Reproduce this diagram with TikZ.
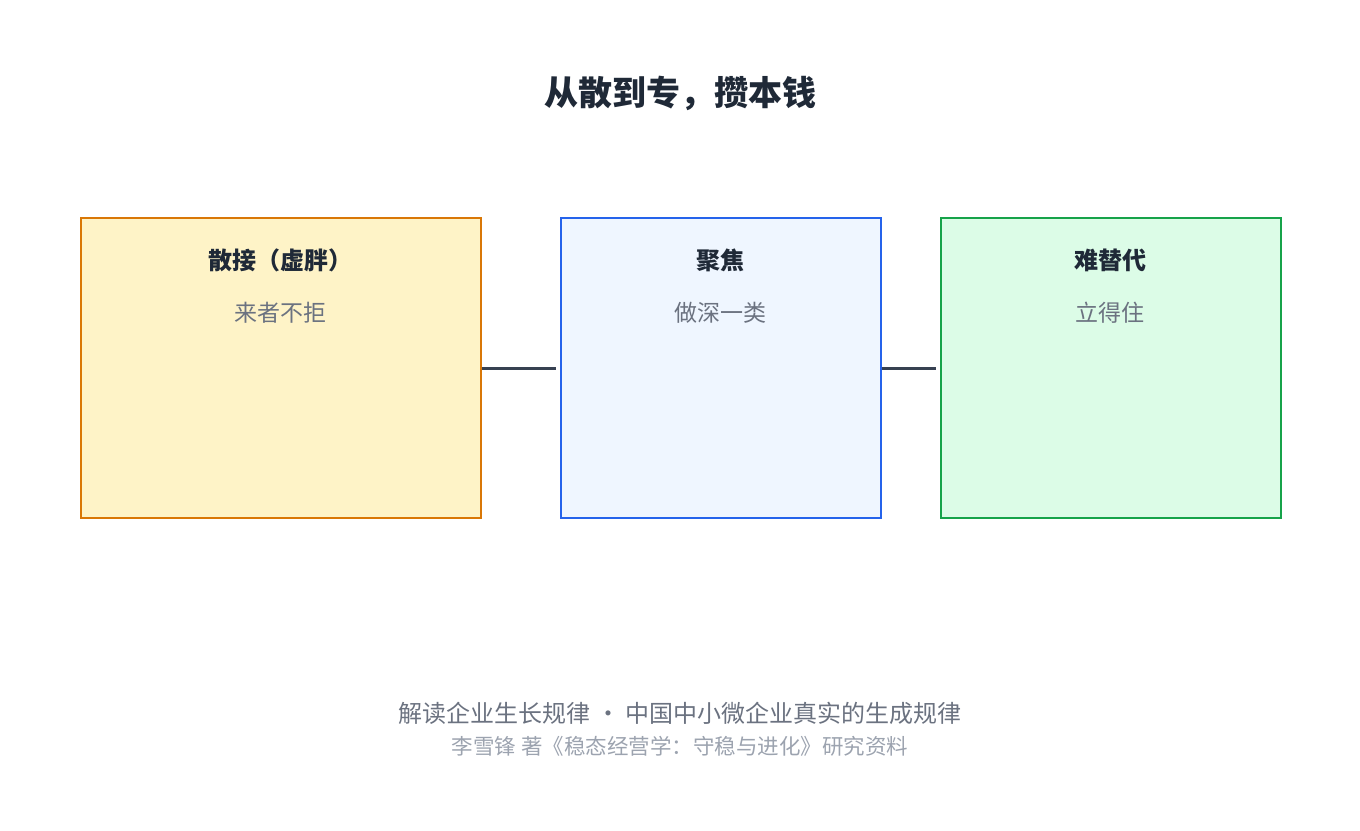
\documentclass[tikz,border=0pt]{standalone}
\usepackage{fontspec}
\setmainfont{Noto Sans CJK SC}
\usetikzlibrary{positioning, calc}
\definecolor{ink}{HTML}{1F2937}
\definecolor{sub}{HTML}{6B7280}
\definecolor{faint}{HTML}{9CA3AF}
\definecolor{link}{HTML}{374151}
\definecolor{amberline}{HTML}{D97706}
\definecolor{amberfill}{HTML}{FEF3C7}
\definecolor{blueline}{HTML}{2563EB}
\definecolor{bluefill}{HTML}{EFF6FF}
\definecolor{greenline}{HTML}{16A34A}
\definecolor{greenfill}{HTML}{DCFCE7}
\tikzset{
    stage/.style={draw, line width=2pt, minimum height=300pt, anchor=north west, inner sep=0pt},
    head/.style={font=\fontsize{24pt}{28pt}\selectfont\bfseries, text=ink},
    note/.style={font=\fontsize{23pt}{27pt}\selectfont, text=sub},
    link/.style={draw=link, line width=3pt},
}
\begin{document}
\begin{tikzpicture}[x=1pt, y=-1pt]
    \useasboundingbox (0,0) rectangle (1360,830);

    \node[font=\fontsize{34pt}{40pt}\selectfont\bfseries, text=ink] (title) at (680,93) {从散到专，攒本钱};

    \node[stage, draw=amberline, fill=amberfill, minimum width=400pt] (b1) at (80,217) {};
    \node[stage, draw=blueline, fill=bluefill, minimum width=320pt] (b2) at (560,217) {};
    \node[stage, draw=greenline, fill=greenfill, minimum width=340pt] (b3) at (940,217) {};

    \node[head] at (280,260) (h1) {散接（虚胖）};
    \node[note] at (280,313) (n1) {来者不拒};
    \node[head] at (720,260) (h2) {聚焦};
    \node[note] at (720,313) (n2) {做深一类};
    \node[head] at (1110,260) (h3) {难替代};
    \node[note] at (1110,313) (n3) {立得住};

    \draw[link, shorten >=4pt] (b1.east) -- (b2.west);
    \draw[link, shorten >=4pt] (b2.east) -- (b3.west);

    \node[font=\fontsize{24pt}{28pt}\selectfont, text=sub] (foot) at (680,713) {解读企业生长规律 · 中国中小微企业真实的生成规律};
    \node[font=\fontsize{21.5pt}{25pt}\selectfont, text=faint] (src) at (680,746) {李雪锋 著《稳态经营学：守稳与进化》研究资料};
\end{tikzpicture}
\end{document}
